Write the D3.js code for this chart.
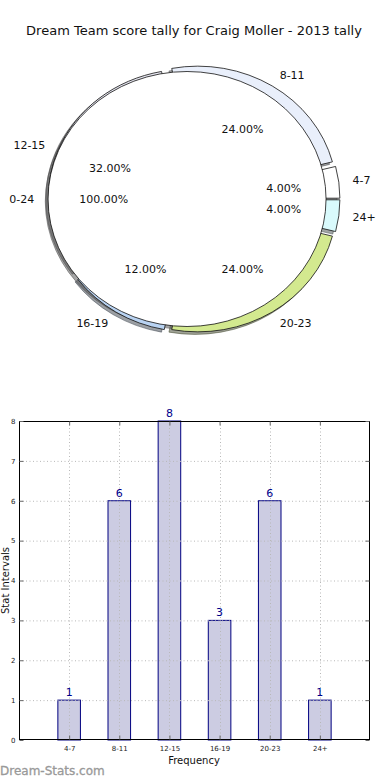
<!DOCTYPE html>
<html>
<head>
<meta charset="utf-8">
<script src="https://cdn.jsdelivr.net/npm/d3@7"></script>
<style>
  body { margin: 0; background: #fff; }
  svg { display: block; font-family: "DejaVu Sans", sans-serif; }
  .piece { vector-effect: non-scaling-stroke; }
</style>
</head>
<body>
<svg id="chart" width="390" height="780"></svg>
<script>
// data
const titleText = "Dream Team score tally for Craig Moller - 2013 tally";
const ringLabels = ["4-7", "8-11", "12-15", "16-19", "20-23", "24+"];
const ringShares = [4, 24, 32, 12, 24, 4];
const ringColors = ["#ffffff", "#e9effb", "#e6e6f0", "#b9d3f2", "#d3e98f", "#d9fafc"];
const coreLabels = ["0-24"];
const coreShares = [100];

const barCategories = ["4-7", "8-11", "12-15", "16-19", "20-23", "24+"];
const barValues = [1, 6, 8, 3, 6, 1];
const yTickValues = [0, 1, 2, 3, 4, 5, 6, 7, 8];

const svg = d3.select("#chart");

svg.append("text")
  .attr("x", 194).attr("y", 35)
  .attr("text-anchor", "middle")
  .attr("font-size", 13)
  .attr("fill", "#111")
  .text(titleText);

// ---------- pie (matplotlib style: start at 3 o'clock, counter clockwise) ----------
const cx = 194, cy = 199, sx = 139, sy = 127.5;
const explode = 0.05;

const pie = d3.pie().sort(null)
  .startAngle(Math.PI / 2)
  .endAngle(Math.PI / 2 - 2 * Math.PI);

const arc = d3.arc().innerRadius(0).outerRadius(1);

const ringArcs = pie(ringShares).map((d, i) => ({ ...d, label: ringLabels[i], color: ringColors[i] }));
const coreArcs = pie(coreShares).map((d, i) => ({ ...d, label: coreLabels[i], color: "#ffffff" }));

function midAngle(d) { return (d.startAngle + d.endAngle) / 2; }
function offset(d, dist) {
  const a = midAngle(d);
  return [Math.sin(a) * dist, -Math.cos(a) * dist];
}

const pieG = svg.append("g").attr("transform", `translate(${cx},${cy}) scale(${sx},${sy})`);

// shadows first (they sit under every wedge)
const shadowDx = -0.02, shadowDy = 0.02;
function shade(c) {
  const col = d3.rgb(c);
  return d3.rgb(col.r * 0.3, col.g * 0.3, col.b * 0.3).toString();
}
const allArcs = ringArcs.concat(coreArcs);
pieG.append("g").selectAll("path")
  .data(allArcs)
  .join("path")
  .attr("class", "piece")
  .attr("d", arc)
  .attr("transform", d => {
    const [ox, oy] = offset(d, explode);
    return `translate(${ox + shadowDx},${oy + shadowDy})`;
  })
  .attr("fill", d => shade(d.color))
  .attr("fill-opacity", 0.5)
  .attr("stroke", d => shade(d.color))
  .attr("stroke-opacity", 0.5)
  .attr("stroke-width", 1);

pieG.append("g").selectAll("path")
  .data(allArcs)
  .join("path")
  .attr("class", "piece")
  .attr("d", arc)
  .attr("transform", d => {
    const [ox, oy] = offset(d, explode);
    return `translate(${ox},${oy})`;
  })
  .attr("fill", d => d.color)
  .attr("stroke", "#111")
  .attr("stroke-width", 0.8);

// labels
const labelG = svg.append("g").attr("font-size", 11).attr("fill", "#111");
allArcs.forEach(d => {
  const a = midAngle(d);
  const lx = cx + Math.sin(a) * (1.1 + explode) * sx;
  const ly = cy - Math.cos(a) * (1.1 + explode) * sy;
  labelG.append("text")
    .attr("x", lx).attr("y", ly)
    .attr("dy", "0.35em")
    .attr("text-anchor", Math.sin(a) > 0 ? "start" : "end")
    .text(d.label);
  const px = cx + Math.sin(a) * (0.6 + explode) * sx;
  const py = cy - Math.cos(a) * (0.6 + explode) * sy;
  labelG.append("text")
    .attr("x", px).attr("y", py)
    .attr("dy", "0.35em")
    .attr("text-anchor", "middle")
    .text(d3.format(".2f")(d.value) + "%");
});

// ---------- bar chart ----------
const plot = { left: 19, right: 370, top: 421, bottom: 740 };

const x = d3.scaleLinear().domain([0, barCategories.length + 1]).range([plot.left, plot.right]);
const y = d3.scaleLinear().domain([0, 8]).range([plot.bottom, plot.top]);
const barWidth = 0.45;

svg.append("g").selectAll("rect.bar")
  .data(barValues)
  .join("rect")
  .attr("class", "bar")
  .attr("x", (d, i) => x(i + 1 - barWidth / 2))
  .attr("width", x(barWidth) - x(0))
  .attr("y", d => y(d))
  .attr("height", d => y(0) - y(d))
  .attr("fill", "#ccccE2")
  .attr("stroke", "#000080")
  .attr("stroke-width", 1);

// dotted grid
const grid = svg.append("g")
  .attr("stroke", "#b8b8b8")
  .attr("stroke-width", 1)
  .attr("stroke-dasharray", "1,2.5");
grid.selectAll("line.h")
  .data(yTickValues.slice(1, -1))
  .join("line")
  .attr("x1", plot.left).attr("x2", plot.right)
  .attr("y1", d => y(d) + 0.5).attr("y2", d => y(d) + 0.5);
grid.selectAll("line.v")
  .data(barCategories)
  .join("line")
  .attr("x1", (d, i) => Math.round(x(i + 1)) + 0.5)
  .attr("x2", (d, i) => Math.round(x(i + 1)) + 0.5)
  .attr("y1", plot.top).attr("y2", plot.bottom);

// frame
svg.append("rect")
  .attr("x", plot.left + 0.5).attr("y", plot.top + 0.5)
  .attr("width", plot.right - plot.left - 1)
  .attr("height", plot.bottom - plot.top - 1)
  .attr("fill", "none")
  .attr("stroke", "#000")
  .attr("stroke-width", 1);

// axes with inward ticks
const yAxis = d3.axisLeft(y).tickValues(yTickValues).tickSize(-4).tickPadding(4).tickFormat(d3.format("d"));
const yAxisG = svg.append("g").attr("transform", `translate(${plot.left + 0.5},0)`).call(yAxis);
const yAxisR = d3.axisRight(y).tickValues(yTickValues).tickSize(-4).tickFormat("");
const yAxisRG = svg.append("g").attr("transform", `translate(${plot.right - 0.5},0)`).call(yAxisR);

const xAxis = d3.axisBottom(x).tickValues(d3.range(1, barCategories.length + 1))
  .tickSize(-4).tickPadding(7).tickFormat(d => barCategories[d - 1]);
const xAxisG = svg.append("g").attr("transform", `translate(0,${plot.bottom - 0.5})`).call(xAxis);
const xAxisT = d3.axisTop(x).tickValues(d3.range(1, barCategories.length + 1)).tickSize(-4).tickFormat("");
const xAxisTG = svg.append("g").attr("transform", `translate(0,${plot.top + 0.5})`).call(xAxisT);

[yAxisG, yAxisRG, xAxisG, xAxisTG].forEach(g => {
  g.select(".domain").remove();
  g.selectAll(".tick line").attr("stroke", "#666");
  g.selectAll("text").attr("font-size", 7).attr("font-family", "DejaVu Sans, sans-serif").attr("fill", "#222");
});

// value labels
svg.append("g").selectAll("text")
  .data(barValues)
  .join("text")
  .attr("x", (d, i) => x(i + 1))
  .attr("y", d => y(d) - 4)
  .attr("text-anchor", "middle")
  .attr("font-size", 11)
  .attr("fill", "#00008b")
  .text(d => d);

svg.append("text")
  .attr("x", 194).attr("y", 764)
  .attr("text-anchor", "middle")
  .attr("font-size", 10)
  .attr("fill", "#111")
  .text("Frequency");

svg.append("text")
  .attr("transform", `translate(9,${(plot.top + plot.bottom) / 2}) rotate(-90)`)
  .attr("text-anchor", "middle")
  .attr("font-size", 10)
  .attr("fill", "#111")
  .text("Stat Intervals");

svg.append("text")
  .attr("x", 0).attr("y", 775)
  .attr("font-size", 12)
  .attr("fill", "#999")
  .attr("stroke", "#999")
  .attr("stroke-width", 0.3)
  .text("Dream-Stats.com");
</script>
</body>
</html>
